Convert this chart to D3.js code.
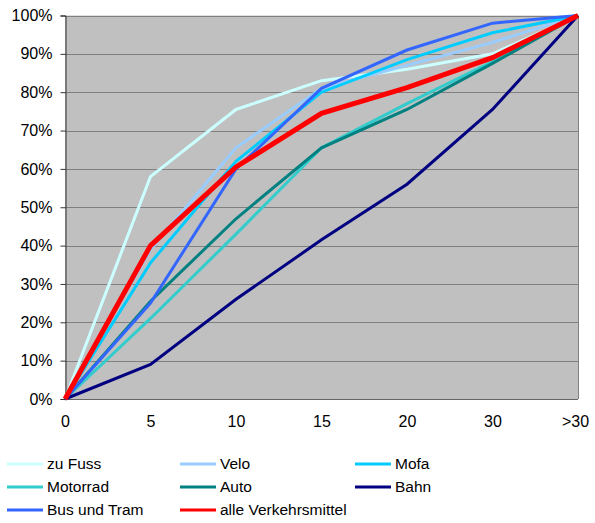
<!DOCTYPE html>
<html><head><meta charset="utf-8">
<script src="https://cdn.jsdelivr.net/npm/d3@7"></script>
<style>body{margin:0;background:#fff;}svg{display:block;font-family:"Liberation Sans",Arial,sans-serif;}</style>
</head><body>
<svg id="c" width="595" height="523"></svg>
<script>
const categories = ["0","5","10","15","20","30",">30"];
const yTicks = [0,10,20,30,40,50,60,70,80,90,100];
const seriesNames = ["zu Fuss","Velo","Mofa","Motorrad","Auto","Bahn","Bus und Tram","alle Verkehrsmittel"];
const zuFuss   = [0, 58, 75.5, 83, 86, 90, 100];
const velo     = [0, 39, 65.5, 81, 87, 93, 100];
const mofa     = [0, 35.5, 62, 80, 88.5, 95.5, 100];
const motorrad = [0, 21, 43, 65.5, 77, 88, 100];
const auto     = [0, 25.5, 47, 65.5, 75.5, 87.5, 100];
const bahn     = [0, 9, 26, 41.5, 56, 75.5, 100];
const bus      = [0, 25, 60, 81, 91, 98, 100];
const alle     = [0, 40, 60.5, 74.5, 81.2, 89, 100];
const seriesValues = [zuFuss, velo, mofa, motorrad, auto, bahn, bus, alle];
const colors = ["#CCFFFF","#99CCFF","#00CCFF","#33CCCC","#008080","#000080","#3366FF","#FF0000"];
const widths = [3,3,3,3,3,3,3,5];

const svg = d3.select("#c");
const L = 65, R = 578, T = 15.5, B = 399;
const x = d3.scalePoint().domain(categories).range([L, R]);
const y = d3.scaleLinear().domain([0,100]).range([B, T]);

svg.append("rect").attr("x", L).attr("y", T).attr("width", R-L).attr("height", B-T).attr("fill", "#C0C0C0");

// gridlines
svg.append("g").selectAll("line").data(yTicks.filter(d=>d>0)).join("line")
  .attr("x1", L).attr("x2", R).attr("y1", d=>Math.round(y(d))+0.5).attr("y2", d=>Math.round(y(d))+0.5)
  .attr("stroke", "#808080").attr("stroke-width", 1);
// right border
svg.append("line").attr("x1", R+0.5).attr("x2", R+0.5).attr("y1", T).attr("y2", B).attr("stroke", "#808080");

// y axis
const yAxis = d3.axisLeft(y).tickValues(yTicks).tickFormat(d=>d+"%").tickSize(5).tickPadding(8);
const gy = svg.append("g").attr("transform", `translate(${L+0.5},0)`).call(yAxis);
gy.select(".domain").attr("stroke", "#333");
gy.selectAll(".tick line").attr("stroke", "#333");
gy.selectAll("text").attr("font-size", 16).attr("fill", "#000").attr("font-family", "Liberation Sans, Arial, sans-serif");

// x axis
const xAxis = d3.axisBottom(x).tickSize(0).tickPadding(16);
const gx = svg.append("g").attr("transform", `translate(0,${B+0.5})`).call(xAxis);
gx.select(".domain").attr("stroke", "#666").attr("d", `M${L},0H${R}`);
gx.selectAll("text").attr("font-size", 16).attr("fill", "#000").attr("font-family", "Liberation Sans, Arial, sans-serif");
gx.selectAll(".tick").filter(d=>d===">30").select("text").attr("dx", -3);

// lines
const line = d3.line().x((d,i)=>x(categories[i])).y(d=>y(d));
svg.append("g").selectAll("path").data(seriesValues).join("path")
  .attr("d", d=>line(d)).attr("fill", "none")
  .attr("stroke", (d,i)=>colors[i]).attr("stroke-width", (d,i)=>widths[i])
  .attr("stroke-linejoin", "miter");

// legend
const colX = [7, 180, 355];
const rowY = [464, 487, 510];
const lg = svg.append("g").selectAll("g").data(seriesNames).join("g")
  .attr("transform", (d,i)=>`translate(${colX[i%3]},${rowY[Math.floor(i/3)]})`);
lg.append("line").attr("x1", 0).attr("x2", 36).attr("y1", 0).attr("y2", 0)
  .attr("stroke", (d,i)=>colors[i]).attr("stroke-width", 3);
lg.append("text").attr("x", 40).attr("y", 0).attr("dy", "0.35em")
  .attr("font-size", 15.5).attr("fill", "#000").text(d=>d);
</script>
</body></html>
